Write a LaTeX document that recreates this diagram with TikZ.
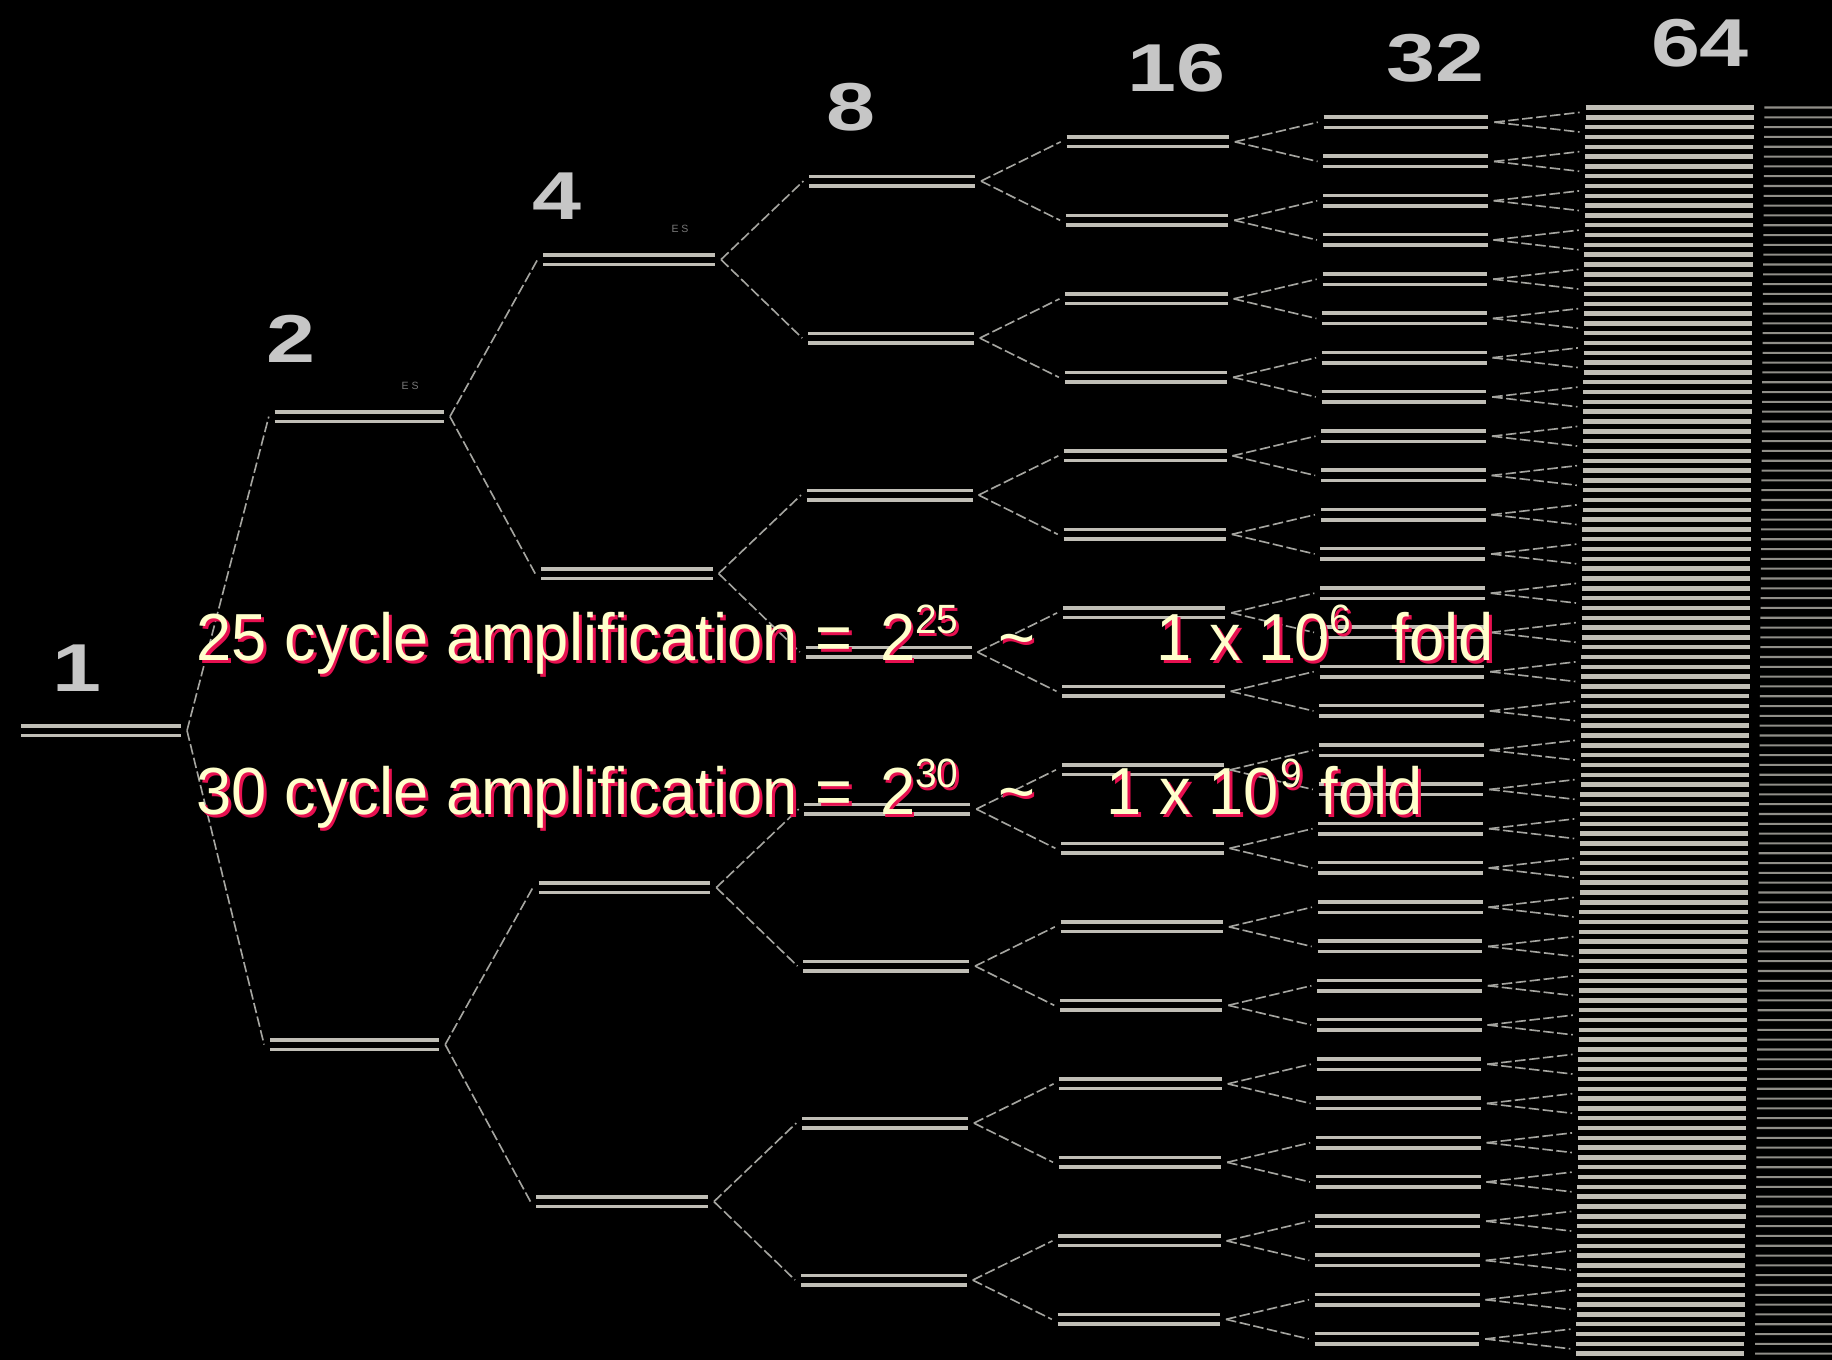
\documentclass[tikz,border=0pt]{standalone}
\usepackage{fontspec}
\setmainfont{Liberation Sans}
\newfontfamily\captionface[FakeStretch=0.95]{Liberation Sans}
\newfontfamily\countface[FakeStretch=1.3]{Liberation Sans}

\definecolor{strand}{RGB}{192,190,182}
\definecolor{linkgray}{RGB}{165,165,160}
\definecolor{numgray}{RGB}{198,198,198}
\definecolor{capfill}{RGB}{255,255,204}
\definecolor{capshade}{RGB}{230,16,80}
\definecolor{esgray}{RGB}{120,120,120}

\tikzset{
  strandline/.style={draw=strand, line width=3pt},
  linkline/.style={draw=linkgray, line width=1.4pt, dash pattern=on 9pt off 3pt},
  fadeline/.style={draw=strand!75!black, line width=1.8pt},
  countlabel/.style={text=numgray, font=\countface\bfseries\fontsize{58}{58}\selectfont, inner sep=0pt, anchor=base},
  eslabel/.style={text=esgray, font=\fontsize{9}{9}\selectfont, inner sep=0pt},
  caption/.style={inner sep=0pt, anchor=base west, font=\captionface\fontsize{57}{60}\selectfont},
  capsup/.style={inner sep=0pt, anchor=base west, font=\captionface\fontsize{35}{40}\selectfont},
}

% text with a red drop shadow: name, position, style, text
\newcommand\glowtext[4]{%
  \node[#3, text=capshade, xshift=2.5pt, yshift=-2.5pt] (#1-s) at (#2) {#4};
  \node[#3, text=capfill] (#1) at (#2) {#4};
}

\begin{document}
\begin{tikzpicture}[x=1pt, y=-1pt]
\useasboundingbox (0,0) rectangle (1568,1164);
\fill[black] (0,0) rectangle (1568,1164);
\clip (0,0) rectangle (1568,1164);

\def\ytop{87.8}
\def\H{1075}

% duplexes of each cycle: level / left x / right x
\foreach \k/\xl/\xr in {0/22/159, 1/237/382, 2/466/613, 3/693/835, 4/913/1052, 5/1133/1274, 6/1357/1501} {
  \pgfmathtruncatemacro{\n}{2^\k}
  \foreach \i in {1,...,\n} {
    \pgfmathsetmacro{\yc}{\ytop + \H/\n*(\i-0.5)}
    \pgfmathsetmacro{\xa}{\xl - 0.0075*(\yc-100)}
    \pgfmathsetmacro{\xb}{\xr - 0.0075*(\yc-100)}
    \coordinate (k\k-\i-L) at (\xa,\yc);
    \coordinate (k\k-\i-R) at (\xb,\yc);
    \coordinate (k\k-\i-in) at (\xa-5,\yc);
    \coordinate (k\k-\i-out) at (\xb+5,\yc);
  }
}

% the next round, running off the right edge
\foreach \j in {1,...,128} {
  \pgfmathsetmacro{\yc}{\ytop + \H/128*(\j-0.5)}
  \coordinate (k7-\j-in) at (1585,\yc);
}

% links from each duplex to its two copies
\foreach \k in {0,...,5} {
  \pgfmathtruncatemacro{\n}{2^\k}
  \pgfmathtruncatemacro{\kk}{\k+1}
  \foreach \i in {1,...,\n} {
    \pgfmathtruncatemacro{\a}{2*\i-1}
    \pgfmathtruncatemacro{\b}{2*\i}
    \draw[linkline] (k\k-\i-out) -- (k\kk-\a-in);
    \draw[linkline] (k\k-\i-out) -- (k\kk-\b-in);
  }
}
\foreach \i in {1,...,64} {
  \pgfmathtruncatemacro{\a}{2*\i-1}
  \pgfmathtruncatemacro{\b}{2*\i}
  \draw[fadeline] ([xshift=4pt,yshift=4.2pt]k6-\i-out) -- (k7-\a-in);
  \draw[fadeline] ([xshift=4pt,yshift=-4.2pt]k6-\i-out) -- (k7-\b-in);
}

% the two strands of every duplex
\foreach \k/\hs/\lw in {0/4/3, 1/4/3, 2/4/3, 3/4/3, 4/4/3, 5/4.5/3, 6/4.2/3.8} {
  \pgfmathtruncatemacro{\n}{2^\k}
  \foreach \i in {1,...,\n} {
    \draw[strandline, line width=\lw pt] ([yshift=\hs pt]k\k-\i-L) -- ([yshift=\hs pt]k\k-\i-R);
    \draw[strandline, line width=\lw pt] ([yshift=-\hs pt]k\k-\i-L) -- ([yshift=-\hs pt]k\k-\i-R);
  }
}

% copy counts above each column
\node[countlabel] (n1)  at (66,592)   {1};
\node[countlabel] (n2)  at (249,310)  {2};
\node[countlabel] (n4)  at (477,188)  {4};
\node[countlabel] (n8)  at (728,112)  {8};
\node[countlabel] (n16) at (1007,78)  {16};
\node[countlabel] (n32) at (1229,70)  {32};
\node[countlabel] (n64) at (1455,57)  {64};

\node[eslabel] (es1) at (351,330) {E S};
\node[eslabel] (es2) at (582,196) {E S};

% amplification figures
\glowtext{a1}{168,565}{caption}{25 cycle amplification =}
\glowtext{a2}{753,565}{caption}{2}
\glowtext{a3}{783,542}{capsup}{25}
\glowtext{a4}{854,565}{caption}{\char"7E}
\glowtext{a5}{990,565}{caption}{1 x 10}
\glowtext{a6}{1138,542}{capsup}{6}
\glowtext{a7}{1191,565}{caption}{fold}

\glowtext{b1}{168,697}{caption}{30 cycle amplification =}
\glowtext{b2}{753,697}{caption}{2}
\glowtext{b3}{783,674}{capsup}{30}
\glowtext{b4}{854,697}{caption}{\char"7E}
\glowtext{b5}{947,697}{caption}{1 x 10}
\glowtext{b6}{1096,674}{capsup}{9}
\glowtext{b7}{1130,697}{caption}{fold}
\end{tikzpicture}
\end{document}
